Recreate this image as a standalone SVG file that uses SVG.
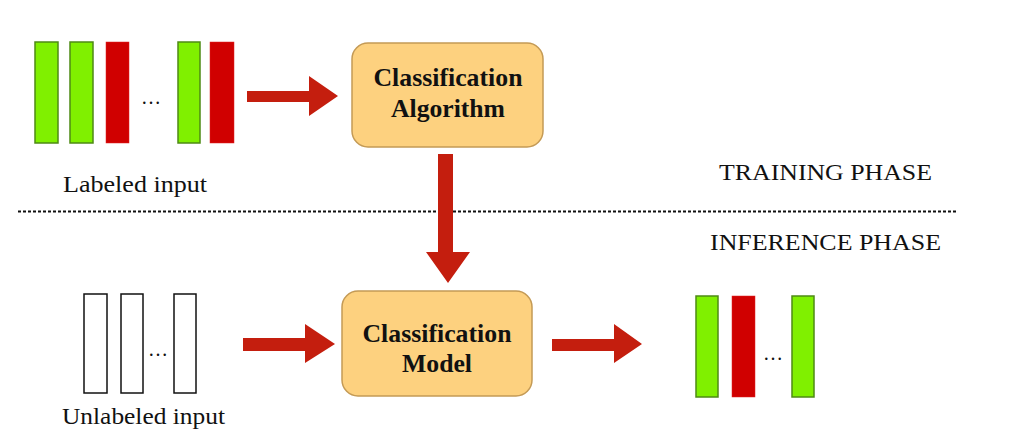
<svg xmlns="http://www.w3.org/2000/svg" width="1024" height="432" viewBox="0 0 1024 432">
<style>
.g{fill:#80F000;stroke:#4E8A14;stroke-width:1.5}
.r{fill:#D00000;stroke:#E02020;stroke-width:0.5}
.w{fill:#fff;stroke:#111;stroke-width:1.5}
.box{fill:#FDD17F;stroke:#C49A55;stroke-width:1.5}
.bt{font-family:'Liberation Serif','Times New Roman',serif;font-weight:bold;font-size:25px;fill:#111;text-anchor:middle}
.t{font-family:'Liberation Serif','Times New Roman',serif;font-size:24px;fill:#111}
.dots{font-family:'Liberation Serif','Times New Roman',serif;font-size:20px;fill:#111}
.arr{fill:#C41E0E}
</style>
<rect width="1024" height="432" fill="#fff"/>
<g id="labeled-input">
<rect class="g" x="35" y="42" width="23" height="101"/>
<rect class="g" x="70" y="42" width="23" height="101"/>
<rect class="r" x="106" y="42" width="23" height="101"/>
<text class="dots" x="141" y="104" textLength="21">…</text>
<rect class="g" x="178" y="42" width="22" height="101"/>
<rect class="r" x="210" y="42" width="24" height="101"/>
<text class="t" x="63" y="192" textLength="144" lengthAdjust="spacingAndGlyphs">Labeled input</text>
</g>
<g id="classification-algorithm">
<rect class="box" x="352" y="43" width="191" height="104" rx="16"/>
<text class="bt" x="448" y="86" textLength="149" lengthAdjust="spacingAndGlyphs">Classification</text>
<text class="bt" x="448" y="117" textLength="114" lengthAdjust="spacingAndGlyphs">Algorithm</text>
</g>
<g id="phases">
<line x1="18" y1="211.5" x2="958" y2="211.5" stroke="#111" stroke-width="2" stroke-dasharray="3 2"/>
<text class="t" x="719" y="180" textLength="213" lengthAdjust="spacingAndGlyphs">TRAINING PHASE</text>
<text class="t" x="710" y="250" textLength="231" lengthAdjust="spacingAndGlyphs">INFERENCE PHASE</text>
</g>
<g id="unlabeled-input">
<rect class="w" x="84" y="294" width="23" height="99"/>
<rect class="w" x="121" y="294" width="22" height="99"/>
<text class="dots" x="148" y="356" textLength="20">…</text>
<rect class="w" x="174" y="294" width="22" height="99"/>
<text class="t" x="62" y="424" textLength="163" lengthAdjust="spacingAndGlyphs">Unlabeled input</text>
</g>
<g id="classification-model">
<rect class="box" x="342" y="291" width="190" height="105" rx="16"/>
<text class="bt" x="437" y="342" textLength="149" lengthAdjust="spacingAndGlyphs">Classification</text>
<text class="bt" x="437" y="372" textLength="70" lengthAdjust="spacingAndGlyphs">Model</text>
</g>
<g id="output">
<rect class="g" x="696" y="296" width="22" height="101"/>
<rect class="r" x="732" y="296" width="23" height="101"/>
<text class="dots" x="763" y="360" textLength="20">…</text>
<rect class="g" x="792" y="296" width="22" height="101"/>
</g>
<g id="connectors">
<polygon class="arr" points="247,91 309,91 309,76 338,96 309,116 309,102 247,102"/>
<polygon class="arr" points="438,154 453,154 453,252 470,252 448,283 426,252 438,252"/>
<polygon class="arr" points="243,338 305,338 305,324 335,344 305,363 305,351 243,351"/>
<polygon class="arr" points="552,339 614,339 614,324 642,344 614,363 614,351 552,351"/>
</g>
</svg>
